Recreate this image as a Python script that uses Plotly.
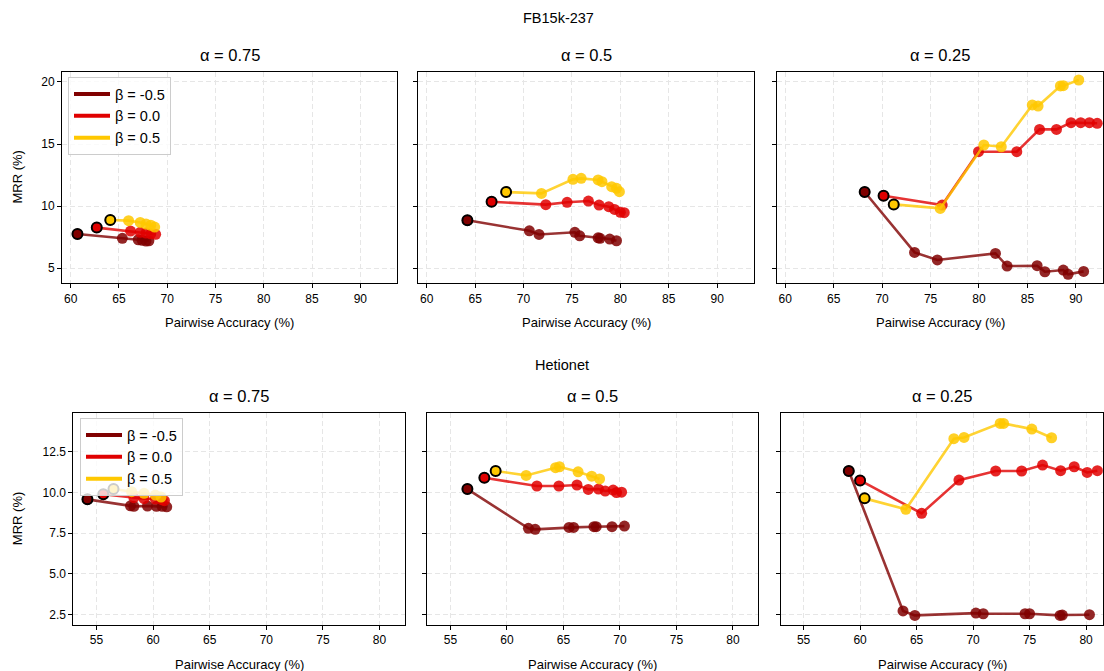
import plotly.graph_objects as go

# ---------------- data ----------------
betas = ["β = -0.5", "β = 0.0", "β = 0.5"]
beta_colors = ["#800000", "#e00000", "#ffc800"]
alpha_titles = ["α = 0.75", "α = 0.5", "α = 0.25"]
dataset_titles = ["FB15k-237", "Hetionet"]
x_label = "Pairwise Accuracy (%)"
y_label = "MRR (%)"
fb_xticks = [60, 65, 70, 75, 80, 85, 90]
fb_yticks = [5, 10, 15, 20]
het_xticks = [55, 60, 65, 70, 75, 80]
het_yticks = [2.5, 5.0, 7.5, 10.0, 12.5]
het_yticklabels = ["2.5", "5.0", "7.5", "10.0", "12.5"]

# FB15k-237, alpha = 0.75
fb_a075_bm05_x = [60.7, 65.35, 67.0, 67.4, 67.8, 68.1]
fb_a075_bm05_y = [7.74, 7.40, 7.28, 7.24, 7.18, 7.20]
fb_a075_b0_x = [62.7, 66.2, 67.2, 67.8, 68.3, 68.8]
fb_a075_b0_y = [8.26, 7.98, 7.88, 7.82, 7.76, 7.72]
fb_a075_b05_x = [64.1, 66.0, 67.2, 67.8, 68.3, 68.7]
fb_a075_b05_y = [8.87, 8.82, 8.68, 8.55, 8.45, 8.30]

# FB15k-237, alpha = 0.5
fb_a05_bm05_x = [64.2, 70.6, 71.6, 75.3, 75.8, 77.7, 77.9, 78.9, 79.6]
fb_a05_bm05_y = [8.85, 8.00, 7.71, 7.88, 7.60, 7.44, 7.40, 7.34, 7.20]
fb_a05_b0_x = [66.7, 72.3, 74.5, 76.7, 77.8, 78.8, 79.4, 80.0, 80.4]
fb_a05_b0_y = [10.35, 10.11, 10.30, 10.40, 10.08, 9.95, 9.73, 9.49, 9.46]
fb_a05_b05_x = [68.2, 71.85, 75.1, 75.95, 77.7, 78.1, 79.1, 79.6, 79.9]
fb_a05_b05_y = [11.13, 11.02, 12.15, 12.23, 12.10, 11.96, 11.56, 11.43, 11.16]

# FB15k-237, alpha = 0.25
fb_a025_bm05_x = [68.2, 73.35, 75.7, 81.7, 82.9, 86.0, 86.8, 88.7, 89.2, 90.8]
fb_a025_bm05_y = [11.13, 6.26, 5.65, 6.18, 5.16, 5.19, 4.70, 4.84, 4.49, 4.73]
fb_a025_b0_x = [70.15, 76.2, 79.95, 83.9, 86.25, 88.0, 89.5, 90.5, 91.4, 92.2]
fb_a025_b0_y = [10.83, 10.08, 14.38, 14.38, 16.18, 16.18, 16.72, 16.72, 16.72, 16.67]
fb_a025_b05_x = [71.2, 76.0, 80.5, 82.3, 85.5, 86.1, 88.4, 88.7, 90.3]
fb_a025_b05_y = [10.13, 9.81, 14.92, 14.78, 18.15, 18.06, 19.68, 19.70, 20.16]

# Hetionet, alpha = 0.75
het_a075_bm05_x = [54.2, 58.0, 58.3, 59.5, 60.3, 60.8, 61.2]
het_a075_bm05_y = [9.58, 9.18, 9.15, 9.17, 9.15, 9.15, 9.12]
het_a075_b0_x = [55.6, 58.3, 59.2, 60.2, 60.8, 61.0]
het_a075_b0_y = [9.89, 9.68, 9.62, 9.60, 9.55, 9.50]
het_a075_b05_x = [56.5, 58.1, 59.2, 60.2, 60.7]
het_a075_b05_y = [10.21, 10.05, 9.95, 9.84, 9.72]

# Hetionet, alpha = 0.5
het_a05_bm05_x = [56.5, 61.9, 62.5, 65.5, 65.9, 67.7, 67.9, 69.3, 70.4]
het_a05_bm05_y = [10.21, 7.80, 7.74, 7.86, 7.86, 7.90, 7.90, 7.90, 7.94]
het_a05_b0_x = [58.0, 62.65, 64.6, 66.2, 67.2, 68.1, 68.7, 69.4, 69.7, 70.15]
het_a05_b0_y = [10.90, 10.40, 10.40, 10.46, 10.19, 10.21, 10.09, 10.15, 10.00, 10.02]
het_a05_b05_x = [59.0, 61.7, 64.3, 64.65, 66.3, 67.5, 68.2]
het_a05_b05_y = [11.32, 11.05, 11.52, 11.58, 11.27, 11.00, 10.83]

# Hetionet, alpha = 0.25
het_a025_bm05_x = [59.0, 63.8, 64.85, 70.25, 70.9, 74.6, 75.0, 77.7, 77.9, 80.3]
het_a025_bm05_y = [11.32, 2.73, 2.46, 2.60, 2.56, 2.56, 2.56, 2.46, 2.48, 2.50]
het_a025_b0_x = [60.0, 65.45, 68.75, 72.0, 74.3, 76.15, 77.75, 78.95, 80.1, 81.0]
het_a025_b0_y = [10.74, 8.72, 10.76, 11.32, 11.32, 11.68, 11.34, 11.58, 11.23, 11.34]
het_a025_b05_x = [60.4, 64.05, 68.3, 69.2, 72.4, 72.7, 75.2, 76.95]
het_a025_b05_y = [9.64, 8.97, 13.30, 13.38, 14.24, 14.24, 13.89, 13.36]

panels = [
    [(fb_a075_bm05_x, fb_a075_bm05_y), (fb_a075_b0_x, fb_a075_b0_y), (fb_a075_b05_x, fb_a075_b05_y)],
    [(fb_a05_bm05_x, fb_a05_bm05_y), (fb_a05_b0_x, fb_a05_b0_y), (fb_a05_b05_x, fb_a05_b05_y)],
    [(fb_a025_bm05_x, fb_a025_bm05_y), (fb_a025_b0_x, fb_a025_b0_y), (fb_a025_b05_x, fb_a025_b05_y)],
    [(het_a075_bm05_x, het_a075_bm05_y), (het_a075_b0_x, het_a075_b0_y), (het_a075_b05_x, het_a075_b05_y)],
    [(het_a05_bm05_x, het_a05_bm05_y), (het_a05_b0_x, het_a05_b0_y), (het_a05_b05_x, het_a05_b05_y)],
    [(het_a025_bm05_x, het_a025_bm05_y), (het_a025_b0_x, het_a025_b0_y), (het_a025_b05_x, het_a025_b05_y)],
]

# ---------------- layout geometry (pixels) ----------------
W, H = 1104, 671
FONT = "Liberation Sans, Arial, sans-serif"
col_px = [(62, 397), (418, 754), (777, 1103), (73.3, 405), (427.3, 758.3), (781, 1103)]
row_px = [(71.7, 283.3), (413.3, 625)]
x_ranges = [[59.1, 93.8], [59.1, 93.8], [59.15, 92.8], [52.95, 82.25], [52.95, 82.25], [53.0, 81.5]]
y_ranges = [[3.77, 20.83], [1.87, 14.86]]


def rgba(hexc, a):
    h = hexc.lstrip("#")
    return "rgba(%d,%d,%d,%.2f)" % (int(h[0:2], 16), int(h[2:4], 16), int(h[4:6], 16), a)


fig = go.Figure()
layout = dict(
    width=W, height=H, margin=dict(l=0, r=0, t=0, b=0),
    plot_bgcolor="white", paper_bgcolor="white",
    font=dict(family=FONT, size=12, color="black"),
    showlegend=True,
)
annotations = []

for i in range(6):
    row = i // 3
    sfx = "" if i == 0 else str(i + 1)
    xa, ya = "x" + sfx, "y" + sfx
    x0, x1 = col_px[i]
    y0, y1 = row_px[row]
    xticks = fb_xticks if row == 0 else het_xticks
    yticks = fb_yticks if row == 0 else het_yticks
    ytext = [str(v) for v in fb_yticks] if row == 0 else het_yticklabels
    common = dict(showline=True, mirror=True, linecolor="black", linewidth=1,
                  ticks="outside", ticklen=4, tickcolor="black",
                  showgrid=True, gridcolor="#e6e6e6", griddash="5px,3px", gridwidth=1,
                  zeroline=False, tickfont=dict(size=12, family=FONT))
    layout["xaxis" + sfx] = dict(common, domain=[x0 / W, x1 / W], range=x_ranges[i],
                                 tickvals=xticks, anchor=ya)
    layout["yaxis" + sfx] = dict(common, domain=[1 - y1 / H, 1 - y0 / H], range=y_ranges[row],
                                 tickvals=yticks, ticktext=ytext, anchor=xa,
                                 showticklabels=(i % 3 == 0))
    for b in range(3):
        xs, ys = panels[i][b]
        col = beta_colors[b]
        fig.add_trace(go.Scatter(
            x=xs, y=ys, xaxis=xa, yaxis=ya, mode="lines+markers",
            line=dict(color=rgba(col, 0.8), width=2.6),
            marker=dict(color=col, size=11, opacity=0.85, line=dict(width=0)),
            showlegend=False, hoverinfo="skip"))
    for b in range(3):
        xs, ys = panels[i][b]
        fig.add_trace(go.Scatter(
            x=xs[:1], y=ys[:1], xaxis=xa, yaxis=ya, mode="markers",
            marker=dict(color=beta_colors[b], size=10, line=dict(color="black", width=2)),
            showlegend=False, hoverinfo="skip"))
    # subplot title
    annotations.append(dict(text=alpha_titles[i % 3], x=(x0 + x1) / 2 / W, y=1 - (y0 - 17) / H,
                            xref="paper", yref="paper", showarrow=False,
                            xanchor="center", yanchor="middle", font=dict(size=16.5, family=FONT)))
    # x-axis label
    annotations.append(dict(text=x_label, x=(x0 + x1) / 2 / W, y=1 - (y1 + 39) / H,
                            xref="paper", yref="paper", showarrow=False,
                            xanchor="center", yanchor="middle", font=dict(size=13, family=FONT)))
    if i % 3 == 0:
        annotations.append(dict(text=y_label, x=17 / W, y=1 - (y0 + y1) / 2 / H,
                                xref="paper", yref="paper", showarrow=False, textangle=-90,
                                xanchor="center", yanchor="middle", font=dict(size=13, family=FONT)))

# legend entries (line only)
for leg in ["legend", "legend2"]:
    for b in range(3):
        fig.add_trace(go.Scatter(
            x=[None], y=[None], mode="lines", name=betas[b],
            line=dict(color=beta_colors[b], width=4),
            legend=leg, showlegend=True, hoverinfo="skip"))

legend_style = dict(xanchor="left", yanchor="top", bordercolor="#cccccc", borderwidth=1,
                    bgcolor="rgba(255,255,255,0.8)", font=dict(size=14.5, family=FONT),
                    itemwidth=36, tracegroupgap=0)
layout["legend"] = dict(legend_style, x=68 / W, y=1 - 77 / H)
layout["legend2"] = dict(legend_style, x=80 / W, y=1 - 418 / H)

annotations.append(dict(text=dataset_titles[0], x=558 / W, y=1 - 18 / H, xref="paper", yref="paper",
                        showarrow=False, xanchor="center", yanchor="middle", font=dict(size=14.5, family=FONT)))
annotations.append(dict(text=dataset_titles[1], x=562 / W, y=1 - 365 / H, xref="paper", yref="paper",
                        showarrow=False, xanchor="center", yanchor="middle", font=dict(size=14.5, family=FONT)))
layout["annotations"] = annotations

fig.update_layout(**layout)
fig.write_html("out.html", config={"displayModeBar": False},
               post_script="document.body.style.margin='0';document.body.style.padding='0';"
                           "document.body.style.overflow='hidden';")
